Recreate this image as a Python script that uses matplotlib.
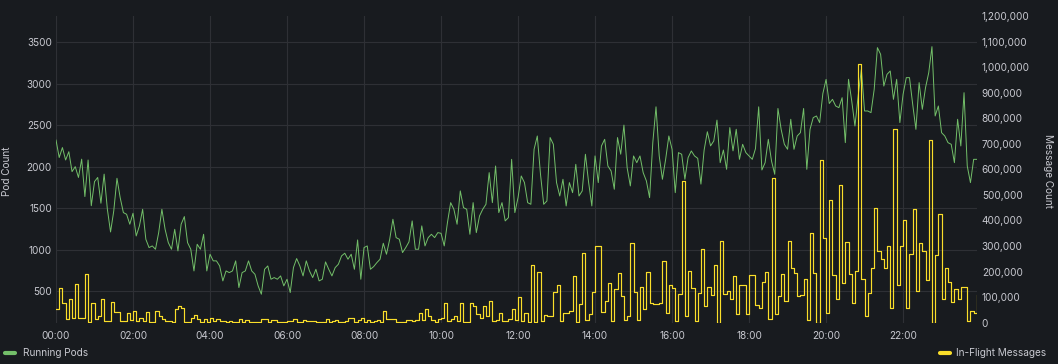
import numpy as np
import matplotlib.pyplot as plt
from matplotlib.ticker import FuncFormatter
from matplotlib.lines import Line2D

# Running pods, one value every 5 minutes, 00:00 -> 23:55
running_pods = [
    2320, 2110, 2230, 2080, 2180, 1940, 2000, 1870, 2090, 1640, 2080, 1530,
    1820, 1870, 1560, 1910, 1490, 1214, 1467, 1860, 1627, 1447, 1427, 1307,
    1439, 1166, 1287, 1487, 1126, 1026, 1046, 1006, 1206, 1487, 1246, 1086,
    1006, 1246, 986, 1307, 1399, 1086, 1006, 745, 1066, 1006, 1186, 745,
    946, 866, 866, 805, 625, 745, 725, 745, 866, 545, 725, 745,
    866, 745, 705, 565, 465, 765, 805, 645, 665, 645, 685, 565,
    645, 485, 785, 894, 805, 685, 866, 745, 665, 765, 625, 645,
    854, 765, 685, 785, 825, 926, 958, 886, 946, 765, 1118, 645,
    1026, 1046, 765, 797, 845, 886, 1078, 946, 1126, 1367, 1146, 1126,
    966, 1026, 1094, 1347, 1006, 1006, 1287, 1046, 1146, 1186, 1146, 1206,
    1198, 1046, 1327, 1567, 1487, 1307, 1708, 1507, 1487, 1186, 1567, 1206,
    1407, 1487, 1547, 1928, 1567, 2008, 1447, 1567, 1347, 1387, 2088, 1447,
    1627, 1888, 1808, 1567, 1547, 2209, 2369, 1908, 1547, 1587, 2350, 2269,
    1808, 1647, 1848, 1527, 1808, 1687, 2028, 1647, 1708, 2149, 1808, 1527,
    2129, 1808, 2249, 2329, 2008, 1948, 1728, 2350, 2150, 2500, 1988, 1768,
    2129, 2048, 2129, 1928, 1828, 1627, 2289, 2720, 2129, 1848, 2088, 2369,
    2209, 1687, 2169, 2149, 1848, 2109, 2189, 2129, 2100, 1790, 2200, 2420,
    2250, 2309, 2560, 2048, 2200, 1968, 2470, 2190, 2450, 2088, 2269, 2169,
    2129, 2088, 2217, 2720, 1960, 2048, 2329, 2068, 1908, 2700, 2449, 2269,
    2209, 2570, 2209, 2369, 2409, 2700, 1968, 2449, 2590, 2610, 2530, 2880,
    3050, 2760, 2810, 2730, 2710, 2830, 2289, 3051, 2790, 2489, 2850, 3171,
    2670, 2670, 2650, 2930, 3432, 3352, 2970, 3111, 3151, 2810, 3051, 2530,
    2870, 3071, 3071, 2750, 2449, 3011, 2690, 2951, 3131, 3444, 2610, 2730,
    2409, 2369, 2289, 2269, 2048, 2570, 2249, 2890, 2008, 1808, 2088, 2088,
]

# In-flight messages in thousands, same 5 minute steps
in_flight_k = [
    52, 137, 78, 13, 94, 20, 150, 20, 20, 189, 3, 78,
    15, 26, 91, 7, 7, 81, 42, 42, 7, 7, 39, 10,
    46, 7, 20, 7, 42, 3, 3, 46, 26, 13, 7, 7,
    3, 52, 65, 59, 3, 3, 20, 29, 13, 3, 13, 3,
    20, 8, 13, 7, 5, 3, 7, 3, 1, 13, 1, 10,
    3, 3, 1, 3, 13, 13, 1, 10, 10, 3, 3, 1,
    7, 7, 13, 3, 1, 10, 7, 7, 7, 1, 3, 1,
    13, 1, 7, 10, 3, 1, 7, 20, 20, 3, 10, 20,
    3, 10, 3, 7, 10, 3, 46, 13, 13, 16, 3, 3,
    3, 10, 10, 7, 10, 39, 10, 52, 26, 10, 3, 13,
    20, 76, 7, 13, 26, 7, 76, 3, 3, 76, 65, 33,
    20, 65, 26, 85, 7, 10, 39, 7, 7, 13, 52, 10,
    102, 7, 37, 3, 224, 3, 198, 7, 29, 26, 26, 120,
    146, 7, 39, 39, 46, 183, 3, 72, 274, 10, 33, 120,
    300, 300, 42, 85, 156, 7, 133, 196, 104, 10, 26, 313,
    120, 10, 141, 52, 198, 76, 72, 72, 76, 241, 39, 146,
    137, 7, 111, 554, 26, 202, 137, 7, 117, 287, 65, 141,
    107, 224, 0, 319, 111, 124, 91, 183, 33, 146, 146, 33,
    185, 185, 68, 59, 159, 198, 13, 567, 33, 104, 189, 85,
    319, 215, 193, 104, 107, 170, 10, 352, 193, 0, 636, 333,
    39, 482, 185, 91, 537, 156, 316, 189, 76, 202, 1011, 170,
    26, 117, 215, 450, 280, 248, 215, 300, 59, 759, 146, 300,
    402, 59, 267, 446, 124, 313, 280, 167, 715, 0, 263, 425,
    94, 215, 159, 81, 130, 94, 141, 141, 7, 46, 39, 107,
]

hour_labels = ['00:00', '02:00', '04:00', '06:00', '08:00', '10:00',
               '12:00', '14:00', '16:00', '18:00', '20:00', '22:00']
pod_ticks = [500, 1000, 1500, 2000, 2500, 3000, 3500]
msg_ticks = [0, 100000, 200000, 300000, 400000, 500000, 600000,
             700000, 800000, 900000, 1000000, 1100000, 1200000]

BG = '#181b1f'
TXT = '#c8c9d0'
GRID = '#2e3035'
GREEN = '#73bf69'
YELLOW = '#fade2a'
FS = 7.2

plt.rcParams['font.family'] = ['Inter', 'DejaVu Sans']

hours = np.arange(len(running_pods)) * 5 / 60
messages = np.array(in_flight_k) * 1000

fig = plt.figure(figsize=(10.58, 3.64), dpi=100, facecolor=BG)
W, H = 1058, 364
ax = fig.add_axes([56 / W, 1 - 322.7 / H, (977 - 56) / W, (322.7 - 16) / H])
ax.set_facecolor(BG)
ax2 = ax.twinx()

ax.plot(hours, running_pods, color=GREEN, linewidth=0.7)
ax2.plot(hours, messages, color=YELLOW, linewidth=0.85, drawstyle='steps-post')

ax.set_xlim(0, 23.92)
ax.set_ylim(122, 3813)
ax2.set_ylim(0, 1200000)

ax.set_xticks(np.arange(0, 24, 2))
ax.set_xticklabels(hour_labels)
ax.set_yticks(pod_ticks)
ax2.set_yticks(msg_ticks)
ax2.yaxis.set_major_formatter(FuncFormatter(lambda v, p: f'{int(v):,}'))

ax.grid(True, color=GRID, linewidth=0.8)
ax.set_axisbelow(True)
for a in (ax, ax2):
    for s in a.spines.values():
        s.set_visible(False)
ax.tick_params(axis='x', length=0, pad=6, labelsize=FS, colors=TXT)
ax.tick_params(axis='y', length=0, pad=3, labelsize=FS, colors=TXT)
ax2.tick_params(axis='y', length=0, pad=3.5, labelsize=FS, colors=TXT)

fig.text(7 / W, 1 - 171 / H, 'Pod Count', rotation=90, color=TXT,
         fontsize=FS, ha='center', va='center')
fig.text(1048 / W, 1 - 171 / H, 'Message Count', rotation=270, color=TXT,
         fontsize=FS, ha='center', va='center')

# legend, one entry on each side
fig.add_artist(Line2D([5 / W, 15 / W], [1 - 352.7 / H] * 2, color=GREEN,
                      linewidth=3, solid_capstyle='round'))
fig.text(23 / W, 1 - 352.7 / H, 'Running Pods', color=TXT, fontsize=FS,
         ha='left', va='center')
fig.add_artist(Line2D([940 / W, 950 / W], [1 - 352.7 / H] * 2, color=YELLOW,
                      linewidth=3, solid_capstyle='round'))
fig.text(956 / W, 1 - 352.7 / H, 'In-Flight Messages', color=TXT, fontsize=FS,
         ha='left', va='center')

plt.savefig('out.png', dpi=100, facecolor=BG)
